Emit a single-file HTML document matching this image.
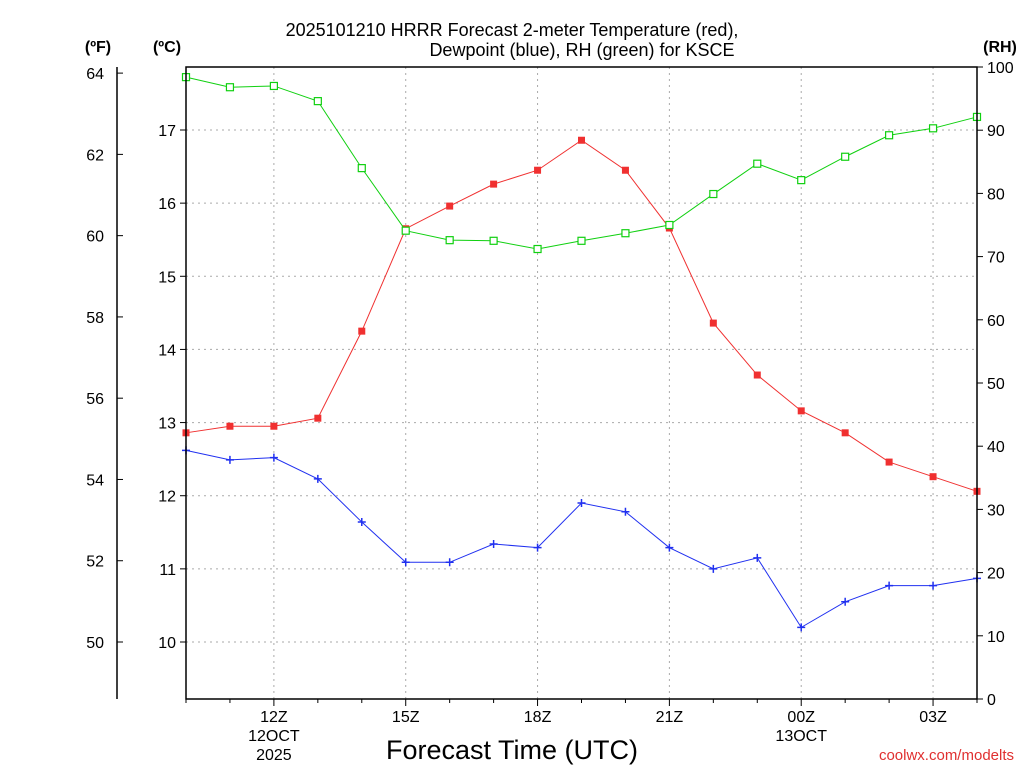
<!DOCTYPE html>
<html><head><meta charset="utf-8"><style>
body{margin:0;background:#fff;width:1024px;height:768px;overflow:hidden}
svg{font-family:"Liberation Sans",sans-serif}
</style></head><body>
<svg id="c" width="1024" height="768">
<text x="512" y="36" text-anchor="middle" font-size="18">2025101210 HRRR Forecast 2-meter Temperature (red),</text>
<text x="582" y="56" text-anchor="middle" font-size="18">Dewpoint (blue), RH (green) for KSCE</text>
<text x="98" y="52" text-anchor="middle" font-size="16" font-weight="bold">(ºF)</text>
<text x="167" y="52" text-anchor="middle" font-size="16" font-weight="bold">(ºC)</text>
<text x="1000" y="52" text-anchor="middle" font-size="16" font-weight="bold">(RH)</text>
<text x="512" y="759" text-anchor="middle" font-size="27">Forecast Time (UTC)</text>
<text x="1014" y="760" text-anchor="end" font-size="15" fill="#e03030">coolwx.com/modelts</text>
</svg>
<script>
const hours=[10,11,12,13,14,15,16,17,18,19,20,21,22,23,24,25,26,27,28];
const tempC=[12.86,12.95,12.95,13.06,14.25,15.65,15.96,16.26,16.45,16.86,16.45,15.66,14.36,13.65,13.16,12.86,12.46,12.26,12.06];
const dewC=[12.62,12.49,12.52,12.23,11.64,11.09,11.09,11.34,11.29,11.90,11.78,11.29,11.0,11.15,10.20,10.55,10.77,10.77,10.87];
const rh=[98.4,96.8,97.0,94.6,84.0,74.1,72.6,72.5,71.2,72.5,73.7,75.0,79.9,84.7,82.1,85.8,89.2,90.3,92.1];
const cTicks=[10,11,12,13,14,15,16,17];
const fTicks=[50,52,54,56,58,60,62,64];
const rhTicks=[0,10,20,30,40,50,60,70,80,90,100];
const xTicks=[12,15,18,21,24,27];
const xLabels=["12Z","15Z","18Z","21Z","00Z","03Z"];
const L=186,R=977,T=67,B=699;
const x=h=>L+(h-10)*(R-L)/18;
const yC=c=>642-(c-10)*(512/7);
const yF=f=>yC((f-32)*5/9);
const yR=r=>B-r*(B-T)/100;
const s=document.getElementById('c');const NS='http://www.w3.org/2000/svg';
function el(t,a,txt){const e=document.createElementNS(NS,t);for(const k in a)e.setAttribute(k,a[k]);if(txt!==undefined)e.textContent=txt;s.appendChild(e);return e;}
cTicks.forEach(c=>{let g=el('line',{x1:L,x2:R,y1:yC(c),y2:yC(c),stroke:'#aaa','stroke-dasharray':'2,4'});


let t=el('text',{x:176,y:yC(c)+6,'text-anchor':'end','font-size':16},c);


el('line',{x1:L-6,x2:L,y1:yC(c),y2:yC(c),stroke:'#000'});});
xTicks.forEach((h,i)=>{let g=el('line',{x1:x(h),x2:x(h),y1:T,y2:B,stroke:'#aaa','stroke-dasharray':'2,4'});


let t=el('text',{x:x(h),y:722,'text-anchor':'middle','font-size':16},xLabels[i]);

});
for(let h=10;h<=28;h++)el('line',{x1:x(h),x2:x(h),y1:B,y2:B+(xTicks.includes(h)?7:4),stroke:'#000'});
el('text',{x:x(12),y:741,'text-anchor':'middle','font-size':16},'12OCT');
el('text',{x:x(12),y:760,'text-anchor':'middle','font-size':16},'2025');
el('text',{x:x(24),y:741,'text-anchor':'middle','font-size':16},'13OCT');
fTicks.forEach(f=>{let t=el('text',{x:104,y:yF(f)+6,'text-anchor':'end','font-size':16},f);


el('line',{x1:117,x2:123,y1:yF(f),y2:yF(f),stroke:'#000'});});
el('line',{x1:117,x2:117,y1:T,y2:B,stroke:'#000','stroke-width':1.5});
rhTicks.forEach(r=>{let t=el('text',{x:987,y:yR(r)+6,'font-size':16},r);


el('line',{x1:R,x2:R+6,y1:yR(r),y2:yR(r),stroke:'#000'});});
function series(vals,yf,color,mk,name){
 let p=el('polyline',{points:vals.map((v,i)=>x(hours[i])+','+yf(v)).join(' '),fill:'none',stroke:color,'stroke-width':1});
 
 
 vals.forEach((v,i)=>{const cx=x(hours[i]),cy=yf(v);let m;
  if(mk==='fill')m=el('rect',{x:cx-3.5,y:cy-3.5,width:7,height:7,fill:color});
  else if(mk==='open')m=el('rect',{x:cx-3.5,y:cy-3.5,width:7,height:7,fill:'#fff',stroke:color,'stroke-width':1.2});
  else m=el('path',{d:`M${cx-4} ${cy}H${cx+4}M${cx} ${cy-4}V${cy+4}`,stroke:color,'stroke-width':1.5});
  
  });
}
series(tempC,yC,'#f03030','fill','temperature');
series(dewC,yC,'#2030f0','plus','dewpoint');
series(rh,yR,'#10d010','open','rh');
let fr=el('rect',{x:L,y:T,width:R-L,height:B-T,fill:'none',stroke:'#000','stroke-width':1.5});


</script>
</body></html>
